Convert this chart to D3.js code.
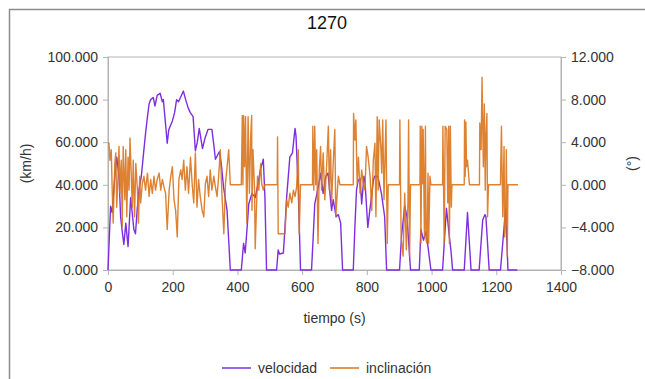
<!DOCTYPE html>
<html>
<head>
<meta charset="utf-8">
<script src="https://cdn.jsdelivr.net/npm/d3@7"></script>
<style>
  html, body { margin: 0; padding: 0; background: #fff; }
  svg { display: block; font-family: "Liberation Sans", Arial, sans-serif; }
</style>
</head>
<body>
<div id="chart"></div>
<script>
// velocidad (km/h): [tiempo (s), valor]
const velocidad = [
    [0,0],[4,15],[8,30],[13,27],[20,42],[27,53],[34,44],[39,25],[44,18],[49,12],[55,22],[62,11],
    [70,34],[76,25],[80,19],[85,17],[90,28],[96,38],[103,44],[110,55],[116,64],[122,72],[127,78],
    [132,80],[140,81],[145,77],[152,82],[161,83],[168,79],[171,80],[177,70],[183,59.5],[188,66],
    [199,70],[206,74],[212,80],[218,79],[224,81],[230,83],[233,84],[240,80],[248,76],[254,74],
    [263,72],[270,56],[276,60],[282,66.5],[292,57],[300,62],[309,66],[321,66],[326,60],[332,52],
    [344,55.5],[350,50],[357,39],[368,28],[373,14],[378,0],[412,0],[419,12.5],[424,8],[430,20],
    [435,31],[445,36],[455,34],[463,40],[471,47],[480,52],[485,34],[490,0],[521,0],[526,9.4],
    [530,7.5],[542,8],[547,20],[552,34],[562,53],[570,55],[578,66.5],[581,63],[588,37.5],[595,0],
    [629,0],[634,15],[639,31],[650,39],[657,45.5],[665,36],[673,44],[680,45.5],[686,36],[691,28],
    [696,33],[705,25],[712,26],[719,22],[725,0],[758,0],[763,20],[768,37.5],[773,42],[779,43],
    [784,31],[791,44],[794,42],[803,20],[809,28],[814,34],[820,42],[824,44],[834,44],[845,36],
    [855,25],[861,0],[901,0],[907,15.6],[917,30],[924,25],[935,0],[962,0],[967,19],[975,14],
    [983,18],[993,6],[998,0],[1034,0],[1046,29],[1055,15.6],[1060,9],[1065,0],[1101,0],[1111,27],
    [1122,0],[1147,0],[1158,23.5],[1165,26],[1168,25],[1178,0],[1213,0],[1229,29],[1236,0],[1265,0]
];

// inclinación (°): [tiempo (s), valor]
const inclinacion = [
    [0,3.9],[3,3.9],[6,2.3],[10,3.3],[13,-0.5],[16,-3.6],[21,2.0],[24,3.0],[27,-2.1],[31,0.8],
    [34,3.6],[37,-0.8],[41,2.3],[44,-3.9],[47,3.6],[52,-1.4],[55,3.3],[58,-3.0],[62,2.6],[65,-0.5],
    [68,4.4],[72,0.8],[75,-2.1],[78,2.3],[82,-3.0],[86,2.0],[91,-0.5],[94,-3.6],[98,0.8],[101,-1.7],
    [106,0.1],[111,0.8],[116,-0.5],[122,1.1],[127,-1.1],[132,0.5],[137,-0.8],[142,0.8],[147,-0.5],
    [152,0.5],[158,1.1],[163,-0.5],[168,0.5],[173,-0.2],[178,-0.8],[183,-4.2],[189,-0.5],[194,0.8],
    [199,1.7],[204,-1.4],[209,-2.4],[214,-4.9],[219,0.5],[225,1.4],[229,0.5],[234,2.3],[239,-0.5],
    [244,1.7],[249,-0.8],[255,2.6],[260,0.1],[265,-1.7],[270,3.0],[275,-2.1],[280,0.5],[285,-1.1],
    [291,-2.4],[296,-3.0],[301,0.1],[306,0.8],[311,-1.1],[316,1.4],[321,-0.5],[327,0.8],[332,-0.2],
    [337,-1.1],[342,0.8],[347,3.3],[352,-0.8],[358,-4.6],[363,0.1],[368,1.7],[373,3.3],[378,0],
    [412,0],[415,6.5],[417,0],[419,6.5],[422,1.7],[425,6.4],[429,-3.6],[433,6.4],[437,-0.8],
    [441,4.5],[444,6.5],[445,-2.4],[448,3.3],[453,-0.5],[455,-6.0],[458,-3.0],[462,0.8],[466,-0.5],
    [472,2.0],[475,0.1],[480,-0.5],[485,0],[523,0],[524,4.5],[526,-4.6],[547,-4.6],[552,-1.4],
    [557,-2.1],[562,-0.8],[568,-1.7],[573,-0.5],[578,-1.1],[583,-0.2],[588,3.3],[591,-4.6],[595,0],
    [632,0],[633,5.5],[636,-0.5],[639,5.5],[642,0],[645,3.3],[649,-5.5],[653,1.4],[657,3.6],
    [660,-0.5],[665,3.0],[670,-1.4],[676,2.0],[681,5.5],[684,-0.5],[688,3.3],[691,-1.7],[696,2.0],
    [701,5.2],[704,-3.0],[709,-0.5],[712,0.8],[717,0],[758,0],[759,6.7],[763,4.2],[766,6.1],
    [770,0.1],[774,2.6],[779,-0.8],[784,1.4],[789,0.1],[794,-0.5],[799,3.6],[804,2.6],[810,0.8],
    [815,-2.4],[820,2.3],[825,3.9],[828,-3.0],[832,6.4],[835,-0.5],[838,6.1],[843,3.6],[846,1.1],
    [849,6.1],[853,-1.4],[856,2.3],[859,6.1],[863,-5.5],[866,0],[901,0],[902,6.1],[904,0],
    [906,-4.9],[912,-6.7],[917,-0.8],[922,-6.1],[927,-1.7],[929,6.1],[932,-6.7],[935,0],[964,0],
    [965,5.5],[967,-5.5],[970,5.5],[972,0.1],[974,5.2],[978,-4.9],[981,5.5],[983,-5.2],[986,-5.5],
    [989,1.1],[991,-5.5],[995,0.8],[998,0],[1034,0],[1035,5.5],[1039,-5.5],[1042,5.5],[1047,5.2],
    [1050,-1.7],[1053,5.5],[1055,-5.5],[1058,5.5],[1061,-2.1],[1063,0],[1101,0],[1102,6.1],
    [1104,0.8],[1106,5.9],[1108,1.7],[1111,2.3],[1115,0.8],[1117,0],[1148,0],[1149,5.8],[1153,3.3],
    [1156,10.1],[1160,1.7],[1163,7.6],[1166,-0.5],[1168,4.5],[1171,6.7],[1173,-3.0],[1176,0],
    [1213,0],[1214,2.3],[1216,5.5],[1220,-3.0],[1222,0.1],[1224,3.6],[1226,-4.9],[1229,-3.6],
    [1231,3.3],[1234,-6.7],[1236,0],[1267,0]
];

const xTicks = [0,200,400,600,800,1000,1200,1400];
const leftTicks = [0,20,40,60,80,100];
const rightTicks = [-8,-4,0,4,8,12];

const chartTitle = "1270";
const seriesNames = ["velocidad", "inclinación"];
const seriesColors = ["#7d2fe0", "#d9741c"];

const width = 645, height = 379;
const margin = { left: 108, right: 84, top: 57, bottom: 109 };

const svg = d3.select("#chart").append("svg")
    .attr("width", width)
    .attr("height", height);

// outer frame
svg.append("rect")
    .attr("x", 9.5).attr("y", 9.5)
    .attr("width", width).attr("height", height)
    .attr("fill", "none")
    .attr("stroke", "#8c8c8c")
    .attr("stroke-width", 1.5);

const x = d3.scaleLinear().domain([0, 1400]).range([margin.left, width - margin.right]);
const yL = d3.scaleLinear().domain([0, 100]).range([height - margin.bottom, margin.top]);
const yR = d3.scaleLinear().domain([-8, 12]).range([height - margin.bottom, margin.top]);

const axisColor = "#b3b3b3";
const textColor = "#333";

// plot box
svg.append("rect")
    .attr("x", x(0)).attr("y", yL(100))
    .attr("width", x(1400) - x(0)).attr("height", yL(0) - yL(100))
    .attr("fill", "none")
    .attr("stroke", axisColor)
    .attr("stroke-width", 1);

function styleAxis(g) {
    g.select(".domain").attr("stroke", axisColor);
    g.selectAll(".tick line").attr("stroke", axisColor);
    g.selectAll(".tick text")
        .attr("fill", textColor)
        .style("font-size", "14px");
}

svg.append("g")
    .attr("transform", `translate(0,${yL(0)})`)
    .call(d3.axisBottom(x).tickValues(xTicks).tickSize(5).tickPadding(7).tickFormat(d3.format("d")))
    .call(styleAxis);

svg.append("g")
    .attr("transform", `translate(${x(0)},0)`)
    .call(d3.axisLeft(yL).tickValues(leftTicks).tickSize(5).tickPadding(5).tickFormat(d3.format(".3f")))
    .call(styleAxis);

svg.append("g")
    .attr("transform", `translate(${x(1400)},0)`)
    .call(d3.axisRight(yR).tickValues(rightTicks).tickSize(5).tickPadding(5).tickFormat(d3.format(".3f")))
    .call(styleAxis);

// series
svg.append("path")
    .datum(velocidad)
    .attr("fill", "none")
    .attr("stroke", seriesColors[0])
    .attr("stroke-width", 1.4)
    .attr("stroke-linejoin", "round")
    .attr("d", d3.line().x(d => x(d[0])).y(d => yL(d[1])));

svg.append("path")
    .datum(inclinacion)
    .attr("fill", "none")
    .attr("stroke", seriesColors[1])
    .attr("stroke-opacity", 0.9)
    .attr("stroke-width", 1.4)
    .attr("stroke-linejoin", "round")
    .attr("d", d3.line().x(d => x(d[0])).y(d => yR(d[1])));

// titles
svg.append("text")
    .attr("x", 327).attr("y", 29)
    .attr("text-anchor", "middle")
    .attr("fill", "#111")
    .style("font-size", "18px")
    .text(chartTitle);

svg.append("text")
    .attr("x", (x(0) + x(1400)) / 2).attr("y", 323)
    .attr("text-anchor", "middle")
    .attr("fill", textColor)
    .style("font-size", "14px")
    .text("tiempo (s)");

svg.append("text")
    .attr("transform", `translate(31,${(yL(0) + yL(100)) / 2}) rotate(-90)`)
    .attr("text-anchor", "middle")
    .attr("fill", textColor)
    .style("font-size", "14px")
    .text("(km/h)");

svg.append("text")
    .attr("transform", `translate(637,${(yL(0) + yL(100)) / 2}) rotate(-90)`)
    .attr("text-anchor", "middle")
    .attr("fill", textColor)
    .style("font-size", "14px")
    .text("(°)");

// legend
const legendX = [222, 330];
const legend = svg.append("g");
seriesNames.forEach((name, i) => {
    legend.append("line")
        .attr("x1", legendX[i]).attr("x2", legendX[i] + 29)
        .attr("y1", 368).attr("y2", 368)
        .attr("stroke", seriesColors[i])
        .attr("stroke-width", 1.5);
    legend.append("text")
        .attr("x", legendX[i] + 36).attr("y", 373)
        .attr("fill", textColor)
        .style("font-size", "14px")
        .text(name);
});
</script>
</body>
</html>
